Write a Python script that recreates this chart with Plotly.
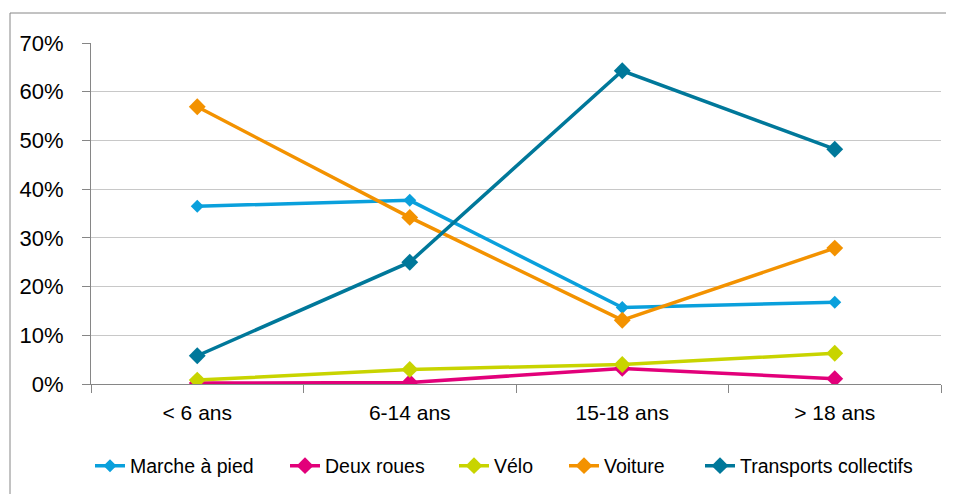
import plotly.graph_objects as go

categories = ["< 6 ans", "6-14 ans", "15-18 ans", "> 18 ans"]
marche = [0.365, 0.377, 0.157, 0.168]
deux_roues = [0.002, 0.003, 0.032, 0.011]
velo = [0.008, 0.030, 0.040, 0.063]
voiture = [0.569, 0.342, 0.131, 0.279]
transports = [0.058, 0.250, 0.643, 0.482]

series = [
    ("Marche à pied", marche, "#0aa0dc", 10),
    ("Deux roues", deux_roues, "#e2007a", 13),
    ("Vélo", velo, "#c8d400", 13),
    ("Voiture", voiture, "#f39200", 13),
    ("Transports collectifs", transports, "#00789a", 13),
]

# page offset of 8px (body margin) is compensated in margins
PL, PR, PT, PB = 91, 941, 43, 384
legend_text_x = [130, 325, 494, 604, 740]

fig = go.Figure()
layout_legends = {}
for i, (name, vals, color, msize) in enumerate(series):
    key = "legend" if i == 0 else f"legend{i + 1}"
    fig.add_trace(go.Scatter(
        x=categories, y=vals, name=name, mode="lines+markers",
        line=dict(color=color, width=3.5),
        marker=dict(symbol="diamond", size=msize, color=color),
        legend=key,
    ))
    layout_legends[key] = dict(
        orientation="h", x=(legend_text_x[i] - 40 - PL) / (PR - PL), xanchor="left",
        y=(PB - 466) / (PB - PT), yanchor="middle", font=dict(size=19.5),
        bgcolor="rgba(0,0,0,0)", borderwidth=0,
    )

fig.update_layout(
    width=946, height=486,
    margin=dict(l=83, r=13, t=35, b=110, autoexpand=False),
    plot_bgcolor="white", paper_bgcolor="white",
    font=dict(family="Liberation Sans, Arial, sans-serif", size=21, color="#000000"),
    showlegend=True,
    xaxis=dict(type="category", showgrid=False, showline=True, linecolor="#868686", linewidth=1,
               ticks="outside", tickson="boundaries", ticklen=8, tickcolor="#868686",
               range=[-0.5, 3.5], ticklabelstandoff=10, automargin=False),
    yaxis=dict(range=[0, 0.7], dtick=0.1, tickformat=".0%", showgrid=True, gridcolor="#c8c8c8",
               gridwidth=1.3, showline=True, linecolor="#868686", linewidth=1, ticks="outside",
               ticklen=8, tickcolor="#868686", zeroline=False, ticklabelstandoff=14,
               tickfont=dict(size=22), automargin=False),
    shapes=[dict(type="rect", xref="paper", yref="paper", x0=(10 - PL) / (PR - PL), x1=1.05,
                 y0=-0.6, y1=(PB - 13) / (PB - PT), line=dict(color="#868686", width=1),
                 layer="below")],
    **layout_legends,
)

fig.write_html("out.html")
